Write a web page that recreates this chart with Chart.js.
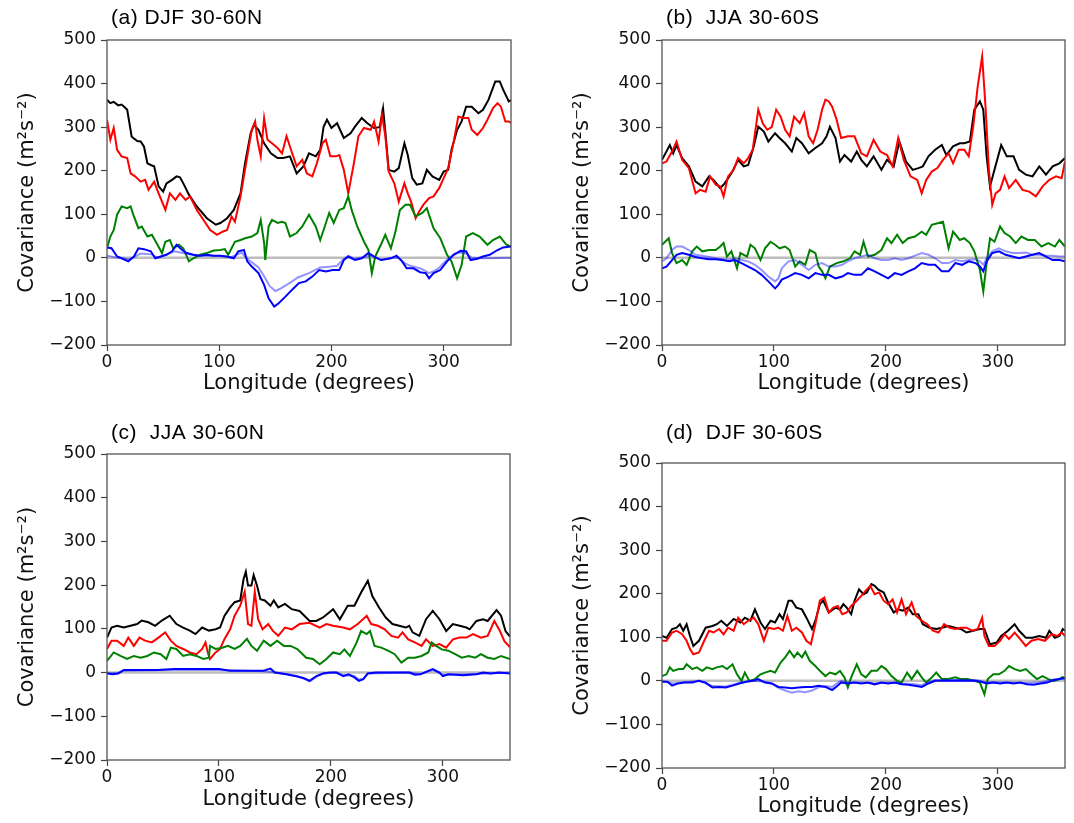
<!DOCTYPE html>
<html>
<head>
<meta charset="utf-8">
<script src="https://cdn.jsdelivr.net/npm/chart.js@4.4.1/dist/chart.umd.min.js"></script>
<style>
  body { margin: 0; background: #fff; }
  #fig { position: relative; width: 1074px; height: 823px; background: #fff; }
  #fig canvas { position: absolute; }
</style>
</head>
<body>
<div id="fig">
  <canvas id="pa" width="537" height="411" style="left:0;top:0"></canvas>
  <canvas id="pb" width="537" height="411" style="left:537px;top:0"></canvas>
  <canvas id="pc" width="537" height="412" style="left:0;top:411px"></canvas>
  <canvas id="pd" width="537" height="412" style="left:537px;top:411px"></canvas>
</div>
<script>
// axis ticks
const lonTicks = [0, 100, 200, 300];
const covTicks = [-200, -100, 0, 100, 200, 300, 400, 500];

// series are [longitude, covariance] pairs

// (a) DJF 30-60N
const djfN_black = [[0,363],[3,355],[6,358],[10,350],[13,352],[16,345],[18,340],[22,278],[27,268],[30,267],[33,255],[36,217],[40,212],[42,210],[46,164],[50,152],[53,171],[58,179],[62,187],[65,185],[68,171],[73,145],[80,118],[89,91],[97,76],[101,80],[107,91],[113,110],[119,148],[123,217],[128,286],[131,305],[135,294],[140,263],[146,240],[152,229],[157,229],[163,233],[169,194],[175,210],[180,240],[186,233],[190,248],[193,301],[196,317],[200,298],[205,309],[211,275],[217,286],[221,301],[227,321],[232,309],[238,298],[243,300],[246,343],[248,290],[251,202],[256,198],[260,206],[265,263],[268,236],[272,183],[276,168],[281,171],[285,202],[290,187],[296,179],[300,198],[304,202],[307,248],[312,294],[316,313],[320,347],[325,347],[331,332],[335,340],[340,363],[346,405],[350,405],[353,386],[358,359],[360,362]];
const djfN_red = [[0,317],[3,271],[6,298],[9,248],[13,233],[18,229],[21,194],[25,187],[30,175],[34,179],[37,156],[42,175],[46,148],[52,110],[56,148],[61,133],[65,148],[70,133],[74,141],[80,110],[86,87],[92,64],[98,53],[103,60],[107,64],[111,95],[114,83],[119,141],[125,233],[129,294],[132,313],[134,271],[137,233],[140,321],[143,271],[147,263],[152,252],[156,240],[160,279],[165,240],[169,210],[174,225],[178,194],[183,187],[187,217],[192,263],[195,271],[199,233],[204,233],[207,236],[211,202],[215,148],[220,217],[224,279],[229,298],[235,294],[238,313],[242,267],[245,328],[248,280],[251,198],[256,171],[260,129],[265,171],[268,148],[271,129],[275,91],[278,106],[282,122],[287,137],[291,141],[296,160],[300,183],[304,206],[309,267],[313,324],[318,321],[322,321],[325,294],[330,282],[335,298],[339,317],[344,344],[348,355],[351,347],[355,313],[358,313],[360,310]];
const djfN_green = [[0,22],[3,49],[6,64],[9,99],[13,118],[18,114],[21,118],[24,95],[28,68],[31,72],[36,49],[40,53],[45,30],[49,11],[52,37],[56,41],[59,22],[64,30],[68,22],[73,-8],[77,-1],[83,7],[89,11],[95,17],[101,18],[105,20],[108,7],[114,37],[119,41],[123,45],[129,49],[134,57],[137,87],[140,34],[141,-5],[144,72],[147,87],[152,80],[156,83],[159,80],[163,49],[169,57],[174,72],[180,99],[186,72],[190,41],[193,64],[198,103],[202,80],[207,110],[211,114],[215,141],[218,110],[223,72],[229,37],[233,18],[236,-35],[239,3],[244,30],[248,53],[253,22],[257,60],[261,110],[266,122],[270,122],[275,95],[281,103],[285,114],[291,68],[297,45],[303,7],[307,-8],[312,-47],[316,-16],[320,49],[326,57],[332,49],[339,30],[344,41],[350,49],[356,30],[360,26]];
const djfN_blue = [[0,24],[4,22],[9,3],[13,-1],[19,-8],[24,3],[28,22],[33,20],[39,15],[43,-1],[48,3],[53,7],[58,15],[62,30],[67,18],[71,11],[77,7],[83,5],[89,7],[95,5],[101,5],[107,3],[113,-1],[117,15],[122,18],[125,-8],[129,-20],[135,-35],[140,-62],[144,-93],[149,-112],[153,-104],[159,-89],[165,-73],[171,-58],[177,-54],[183,-43],[189,-28],[195,-31],[201,-28],[207,-28],[211,-5],[215,3],[221,-5],[227,-1],[233,11],[238,3],[244,-5],[253,-1],[258,5],[263,-8],[267,-24],[273,-24],[279,-33],[284,-35],[287,-47],[291,-35],[297,-28],[303,-8],[309,7],[315,16],[320,15],[324,-5],[330,-2],[335,3],[341,7],[348,18],[353,24],[360,26]];
const djfN_lightBlue = [[0,5],[10,0],[20,-3],[30,10],[40,8],[45,0],[60,15],[70,10],[80,5],[100,4],[110,1],[120,12],[125,-3],[130,-12],[135,-22],[140,-42],[145,-65],[150,-76],[155,-70],[160,-62],[165,-54],[170,-45],[180,-35],[190,-22],[200,-20],[205,-18],[210,-5],[215,5],[220,-2],[230,2],[235,5],[245,-5],[255,1],[260,0],[265,-12],[270,-18],[280,-25],[287,-35],[290,-32],[295,-25],[300,-12],[305,0],[310,10],[315,12],[320,10],[325,0],[335,-1],[360,0]];

// (b) JJA 30-60S
const jjaS_black = [[0,225],[7,259],[10,240],[13,259],[18,229],[24,210],[30,175],[36,164],[42,187],[46,179],[52,160],[56,171],[62,194],[68,225],[73,210],[77,213],[82,256],[86,301],[91,290],[95,267],[101,286],[105,275],[110,263],[116,244],[120,275],[125,263],[131,240],[137,252],[143,263],[147,279],[150,301],[155,275],[159,221],[163,236],[169,221],[174,244],[178,225],[183,210],[189,233],[196,202],[201,225],[207,210],[212,267],[218,221],[224,202],[229,206],[233,210],[238,233],[244,248],[250,259],[254,236],[260,256],[266,263],[270,263],[275,267],[279,340],[284,359],[287,340],[290,233],[293,164],[297,202],[303,259],[308,233],[314,233],[319,202],[325,191],[331,187],[337,210],[343,191],[349,210],[355,217],[360,229]];
const jjaS_red = [[0,217],[4,221],[9,244],[13,267],[18,225],[24,206],[30,148],[34,156],[39,152],[43,187],[48,168],[52,164],[55,141],[59,187],[64,202],[68,229],[73,217],[77,229],[81,248],[86,340],[90,309],[94,294],[98,300],[102,340],[106,324],[110,294],[114,279],[118,324],[123,309],[127,332],[131,279],[135,263],[139,294],[143,340],[146,363],[149,359],[152,347],[156,317],[160,275],[166,279],[172,279],[178,240],[183,233],[189,271],[195,244],[201,236],[206,210],[211,275],[216,225],[222,187],[228,179],[232,148],[236,179],[241,198],[246,206],[251,225],[256,240],[260,217],[265,248],[270,248],[274,233],[278,301],[282,393],[286,462],[289,347],[292,202],[295,122],[298,148],[302,156],[306,187],[310,160],[316,179],[322,156],[328,152],[334,141],[340,164],[346,179],[352,187],[357,183],[360,221]];
const jjaS_green = [[0,30],[6,45],[9,11],[13,-12],[18,-5],[22,-16],[27,15],[31,26],[36,15],[42,18],[48,18],[52,26],[55,34],[58,3],[62,15],[67,-24],[70,11],[76,3],[79,30],[83,22],[88,-5],[92,22],[97,37],[101,30],[105,22],[110,26],[114,18],[119,-20],[123,-8],[128,-16],[132,18],[137,11],[140,-20],[143,-31],[146,-47],[150,-20],[156,-12],[162,-8],[168,-1],[172,15],[177,7],[180,37],[184,3],[190,7],[196,18],[201,45],[205,34],[210,53],[215,34],[220,45],[226,49],[232,60],[236,53],[241,76],[247,80],[251,83],[256,22],[260,60],[266,41],[270,45],[275,34],[279,15],[284,-28],[287,-77],[290,-12],[293,45],[297,37],[302,72],[306,57],[311,49],[316,34],[321,49],[327,41],[333,41],[339,26],[345,34],[351,26],[355,41],[360,26]];
const jjaS_blue = [[0,-24],[4,-20],[9,-5],[13,7],[18,11],[24,7],[30,2],[36,-1],[42,-3],[48,-3],[54,-5],[60,-8],[65,-5],[71,-12],[77,-20],[83,-28],[89,-39],[95,-54],[101,-70],[104,-62],[107,-50],[113,-43],[119,-35],[125,-39],[131,-47],[137,-35],[143,-39],[149,-39],[155,-47],[161,-43],[166,-35],[172,-39],[178,-39],[184,-24],[190,-31],[196,-39],[202,-47],[208,-35],[214,-39],[220,-31],[226,-24],[232,-12],[238,-16],[244,-16],[250,-31],[256,-31],[262,-12],[268,-16],[274,-8],[280,-12],[284,-20],[287,-31],[290,-8],[295,11],[301,15],[307,7],[313,3],[319,-1],[325,3],[331,7],[337,11],[343,3],[349,-5],[355,-5],[360,-8]];
const jjaS_lightBlue = [[0,-8],[4,-1],[9,18],[13,26],[18,26],[24,18],[30,7],[36,5],[42,2],[48,-1],[54,-3],[60,-5],[65,-1],[71,-5],[77,-8],[83,-16],[89,-28],[95,-43],[101,-54],[104,-47],[107,-24],[113,-8],[119,-5],[125,-16],[131,-28],[137,-16],[143,-12],[149,-20],[155,-20],[161,-16],[166,-8],[172,-1],[178,3],[184,7],[190,-1],[196,-5],[202,-5],[208,-1],[214,-5],[220,-1],[226,5],[232,11],[238,7],[244,-1],[250,-12],[256,-12],[262,-5],[268,-8],[274,-5],[280,-3],[284,-8],[287,-16],[290,-1],[295,15],[301,22],[307,15],[313,11],[319,11],[325,12],[331,7],[337,7],[343,5],[349,5],[355,3],[360,3]];

// (c) JJA 30-60N
const jjaN_black = [[0,80],[4,103],[9,107],[15,103],[21,107],[27,111],[31,119],[37,115],[43,107],[49,119],[56,130],[62,111],[68,103],[74,96],[79,88],[85,103],[91,96],[97,99],[101,103],[105,130],[110,149],[114,161],[119,165],[122,214],[124,231],[126,199],[129,199],[131,223],[134,199],[137,168],[141,165],[146,153],[149,165],[153,149],[159,157],[165,145],[172,141],[181,118],[187,118],[193,126],[202,145],[208,122],[215,153],[221,153],[227,183],[233,210],[237,175],[243,149],[249,126],[255,111],[261,107],[267,103],[270,107],[273,92],[279,84],[285,122],[291,141],[297,122],[303,95],[309,111],[315,107],[321,103],[324,99],[330,118],[336,122],[340,118],[348,143],[352,130],[356,95],[360,82]];
const jjaN_red = [[0,54],[4,73],[9,73],[15,61],[19,80],[24,61],[29,80],[34,73],[40,69],[46,80],[52,92],[57,73],[62,61],[68,54],[74,46],[80,42],[85,54],[88,69],[90,46],[92,31],[97,46],[101,54],[105,77],[110,99],[114,130],[119,153],[123,185],[126,111],[129,107],[132,185],[135,122],[139,99],[144,111],[148,96],[153,84],[159,103],[165,99],[172,111],[181,114],[190,103],[196,111],[202,107],[211,103],[217,99],[224,111],[232,130],[236,111],[242,107],[248,99],[254,84],[260,80],[264,92],[269,76],[275,69],[281,61],[285,76],[291,61],[297,65],[303,57],[309,76],[315,80],[321,80],[327,88],[334,80],[340,84],[346,118],[351,95],[355,72],[360,58]];
const jjaN_green = [[0,27],[6,46],[12,38],[18,31],[24,38],[30,34],[36,38],[42,46],[48,42],[53,31],[57,57],[62,54],[68,38],[74,42],[80,38],[86,31],[91,34],[92,61],[97,54],[103,57],[108,61],[114,54],[119,61],[125,77],[129,61],[134,50],[140,73],[146,61],[152,73],[158,61],[164,61],[170,54],[178,34],[184,31],[190,19],[196,31],[202,46],[208,42],[212,53],[217,38],[223,69],[227,95],[232,88],[235,95],[239,61],[245,57],[251,50],[257,42],[263,23],[269,34],[275,34],[281,38],[287,46],[290,69],[294,61],[299,53],[305,50],[311,42],[317,34],[323,38],[329,34],[334,42],[340,34],[346,31],[352,38],[360,31]];
const jjaN_blue = [[0,-2],[5,-4],[10,-2],[15,6],[30,6],[45,6],[60,8],[100,8],[110,4],[140,4],[146,9],[150,0],[160,-4],[170,-9],[176,-13],[181,-19],[187,-8],[193,-2],[199,0],[205,0],[211,-8],[216,-4],[221,-11],[225,-19],[229,-15],[233,-2],[240,0],[270,0],[275,-5],[280,-4],[287,4],[291,8],[297,0],[300,-8],[305,-4],[318,-6],[330,-4],[336,0],[343,-2],[350,0],[360,-2]];
const jjaN_lightBlue = [[0,-1],[10,-1],[15,4],[60,6],[100,6],[140,3],[150,0],[160,-3],[170,-8],[176,-14],[181,-20],[187,-10],[193,-2],[205,0],[211,-6],[221,-8],[225,-16],[229,-14],[233,-2],[270,0],[280,-3],[291,6],[300,-5],[330,-3],[360,0]];

// (d) DJF 30-60S
const djfS_black = [[0,103],[4,99],[9,119],[13,122],[16,130],[19,115],[22,130],[25,103],[28,80],[33,92],[39,122],[45,126],[49,130],[53,138],[58,126],[64,142],[70,134],[74,145],[79,138],[83,164],[88,134],[92,119],[97,138],[101,134],[105,153],[108,142],[113,184],[116,184],[120,168],[125,164],[129,145],[134,119],[137,138],[141,176],[144,184],[149,157],[155,168],[159,164],[162,176],[165,168],[169,153],[172,184],[176,210],[180,199],[183,203],[187,222],[190,218],[193,210],[198,203],[202,180],[207,157],[211,164],[215,161],[220,168],[224,153],[229,153],[233,130],[239,122],[245,119],[250,122],[256,126],[262,122],[267,119],[272,111],[278,115],[284,119],[288,119],[293,84],[299,88],[303,103],[309,115],[315,130],[319,115],[325,99],[331,99],[337,103],[343,99],[346,115],[351,99],[355,103],[358,119],[360,115]];
const djfS_red = [[0,92],[4,92],[9,111],[13,115],[18,107],[22,92],[25,73],[28,61],[33,65],[37,88],[42,115],[46,111],[51,119],[55,107],[59,122],[64,115],[68,145],[73,130],[77,138],[82,145],[86,130],[91,92],[95,122],[100,119],[104,122],[108,115],[112,149],[116,115],[120,122],[125,111],[129,92],[133,84],[137,130],[141,184],[145,191],[149,157],[153,168],[157,172],[161,153],[165,157],[169,172],[174,184],[178,195],[182,207],[186,218],[190,199],[194,203],[198,184],[202,176],[206,187],[210,157],[214,187],[218,153],[223,180],[227,149],[232,138],[237,130],[242,115],[247,111],[252,130],[257,122],[262,119],[267,122],[272,122],[277,115],[282,119],[286,145],[288,103],[292,80],[297,80],[302,92],[306,107],[310,96],[315,111],[320,96],[325,80],[330,92],[336,96],[342,92],[348,107],[353,103],[357,111],[360,103]];
const djfS_green = [[0,11],[4,15],[7,31],[10,23],[15,27],[19,27],[22,38],[27,27],[31,31],[36,23],[40,31],[45,27],[49,31],[54,34],[58,27],[63,38],[67,15],[71,0],[74,19],[78,0],[83,4],[88,15],[92,19],[97,23],[101,19],[106,42],[110,54],[114,69],[118,54],[121,65],[125,54],[128,67],[132,46],[137,34],[141,23],[146,11],[150,19],[155,15],[159,23],[163,8],[166,-15],[169,8],[174,38],[178,15],[182,8],[187,23],[192,23],[196,34],[200,27],[205,11],[210,0],[214,-4],[219,19],[223,4],[228,23],[232,8],[236,-4],[241,8],[245,19],[250,4],[255,4],[262,8],[267,4],[273,4],[279,0],[284,-4],[288,-31],[291,4],[296,15],[301,15],[306,23],[310,34],[315,27],[320,23],[325,27],[330,15],[335,4],[340,11],[345,4],[350,0],[355,4],[358,9],[360,4]];
const djfS_blue = [[0,-2],[5,-2],[9,-11],[14,-6],[20,-4],[27,-4],[33,0],[39,-4],[45,-15],[51,-14],[57,-15],[63,-11],[69,-6],[75,-2],[81,0],[86,4],[92,-4],[98,-6],[104,-14],[110,-15],[116,-17],[122,-15],[128,-14],[134,-14],[140,-11],[146,-14],[152,-21],[155,-15],[160,-4],[166,-6],[172,-4],[178,-6],[184,-4],[190,-8],[196,-4],[202,-6],[208,-4],[214,-8],[220,-9],[226,-11],[232,-14],[238,-6],[244,0],[250,0],[265,1],[280,0],[285,-2],[290,-6],[296,-4],[302,-6],[308,-4],[314,-6],[320,-4],[326,-8],[332,-9],[338,-6],[344,-4],[350,2],[356,5],[360,6]];
const djfS_lightBlue = [[0,0],[10,-6],[20,-3],[33,0],[45,-12],[57,-13],[69,-5],[81,0],[92,-2],[98,-6],[104,-16],[110,-22],[116,-27],[122,-24],[128,-26],[134,-22],[140,-15],[146,-12],[152,-14],[155,-8],[160,0],[166,-3],[178,-4],[190,-6],[202,-4],[214,-6],[226,-8],[232,-10],[238,-3],[244,2],[260,2],[280,2],[290,-3],[302,-3],[326,-5],[338,-3],[350,3],[360,6]];

// box outline and panel title
const framePlugin = {
  id: 'frame',
  afterDraw(chart, args, opts) {
    const { ctx, chartArea: a } = chart;
    ctx.save();
    ctx.strokeStyle = '#555';
    ctx.lineWidth = 1.3;
    ctx.strokeRect(a.left, a.top, a.right - a.left, a.bottom - a.top);
    ctx.font = '21px "Liberation Sans", Arial, Helvetica, sans-serif';
    ctx.letterSpacing = '0.5px';
    ctx.fillStyle = '#000';
    ctx.textBaseline = 'middle';
    ctx.textAlign = 'left';
    ctx.fillText(opts.text, a.left + 4, a.top - opts.gap);
    ctx.restore();
  }
};

const tickFont = { family: 'DejaVu Sans', size: 17 };
const labelFont = { family: 'DejaVu Sans', size: 21 };

function drawPanel(id, box, title, black, red, green, blue, lightBlue) {
  const canvas = document.getElementById(id);
  const W = canvas.width, H = canvas.height;
  const xAxisH = 52;
  const line = (data, color, order) => ({
    data, borderColor: color, borderWidth: 2, pointRadius: 0, tension: 0, order
  });

  new Chart(canvas, {
    type: 'line',
    data: {
      datasets: [
        line(lightBlue, 'rgba(0,0,255,0.42)', 0),
        line(blue, '#0000ff', 1),
        line(green, '#008000', 2),
        line(red, '#ff0000', 3),
        line(black, '#000000', 4),
        { data: [[0, 0], [360, 0]], borderColor: '#bdbdbd', borderWidth: 2.5, pointRadius: 0, order: 5 }
      ]
    },
    options: {
      responsive: false,
      animation: false,
      events: [],
      layout: { padding: { left: 0, top: box.top, right: W - box.right, bottom: H - box.bottom - xAxisH } },
      plugins: {
        legend: { display: false },
        tooltip: { enabled: false },
        frame: { text: title, gap: box.titleGap }
      },
      scales: {
        x: {
          type: 'linear', min: 0, max: 360,
          afterFit: s => { s.height = xAxisH; },
          afterBuildTicks: s => { s.ticks = lonTicks.map(v => ({ value: v })); },
          grid: { drawOnChartArea: false, drawTicks: true, tickLength: 6, color: '#444', tickWidth: 1.2 },
          border: { display: false },
          ticks: { font: tickFont, color: '#111', padding: 1, maxRotation: 0 },
          title: { display: true, text: 'Longitude (degrees)', font: labelFont, color: '#111', padding: { top: 0, bottom: box.xTitlePad } }
        },
        y: {
          type: 'linear', min: -200, max: 500,
          afterFit: s => { s.width = box.left; },
          afterBuildTicks: s => { s.ticks = covTicks.map(v => ({ value: v })); },
          grid: { drawOnChartArea: false, drawTicks: true, tickLength: 6, color: '#444', tickWidth: 1.2 },
          border: { display: false },
          ticks: { font: tickFont, color: '#111', padding: 5, callback: v => String(v).replace('-', '\u2212') },
          title: { display: true, text: 'Covariance (m\u00b2s\u207b\u00b2)', font: labelFont, color: '#111', padding: { top: box.yTitlePad, bottom: 0 } }
        }
      }
    },
    plugins: [framePlugin]
  });
}

drawPanel('pa', { left: 107, right: 511, top: 40, bottom: 345, titleGap: 22, yTitlePad: 15, xTitlePad: 1 },
  '(a) DJF 30-60N', djfN_black, djfN_red, djfN_green, djfN_blue, djfN_lightBlue);
drawPanel('pb', { left: 125, right: 528, top: 40, bottom: 345, titleGap: 22, yTitlePad: 33, xTitlePad: 1 },
  '(b)  JJA 30-60S', jjaS_black, jjaS_red, jjaS_green, jjaS_blue, jjaS_lightBlue);
drawPanel('pc', { left: 107, right: 510, top: 43, bottom: 349, titleGap: 21, yTitlePad: 15, xTitlePad: 0 },
  '(c)  JJA 30-60N', jjaN_black, jjaN_red, jjaN_green, jjaN_blue, jjaN_lightBlue);
drawPanel('pd', { left: 125, right: 528, top: 52, bottom: 357, titleGap: 30, yTitlePad: 33, xTitlePad: 1 },
  '(d)  DJF 30-60S', djfS_black, djfS_red, djfS_green, djfS_blue, djfS_lightBlue);
</script>
</body>
</html>
